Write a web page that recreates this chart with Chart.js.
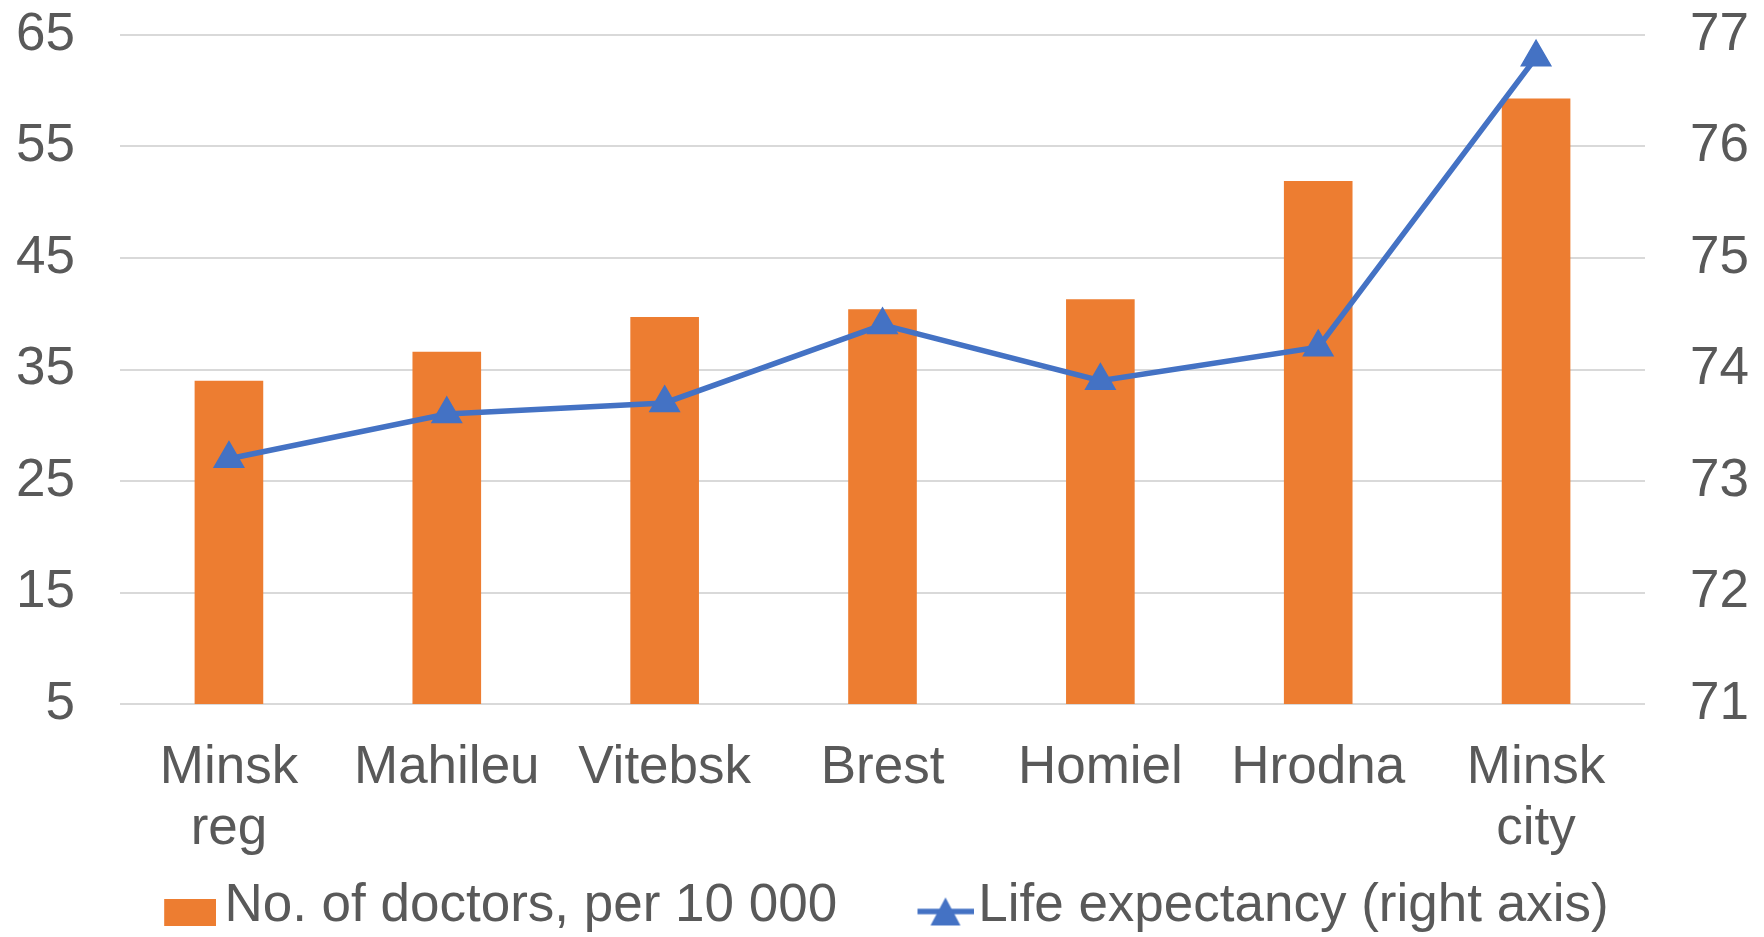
<!DOCTYPE html>
<html>
<head>
<meta charset="utf-8">
<script src="https://cdn.jsdelivr.net/npm/chart.js@4.4.1/dist/chart.umd.min.js"></script>
<style>
  html, body { margin: 0; padding: 0; background: #fff; }
  #wrap { width: 1764px; height: 937px; position: relative; }
</style>
</head>
<body>
<div id="wrap"><canvas id="chart"></canvas></div>
<script>
// Regions, left to right as in the source chart
const regions = [["Minsk", "reg"], "Mahileu", "Vitebsk", "Brest", "Homiel", "Hrodna", ["Minsk", "city"]];

// Doctors per 10 000 people (left axis)
const doctors = [34.0, 36.6, 39.7, 40.4, 41.3, 51.9, 59.3];

// Life expectancy, years (right axis)
const lifeExpectancy = [73.2, 73.6, 73.7, 74.4, 73.9, 74.2, 76.8];

const seriesNames = ["No. of doctors, per 10 000", "Life expectancy (right axis)"];

const ORANGE = "#ED7D31";
const BLUE = "#4472C4";
const TEXT = "#595959";
const GRID = "#D9D9D9";
const FONT = "'Liberation Sans', Arial, sans-serif";
const FS = 53;

// legend markers as small canvases (box / line with triangle),
// content sits at the right edge so it ends close to the text
const MARK_W = 94.5;
function legendBox() {
  const c = document.createElement("canvas");
  c.width = 131; c.height = 39;
  const g = c.getContext("2d");
  g.fillStyle = ORANGE;
  g.fillRect(c.width - 52, 12, 52, 27);
  return c;
}
function legendLine() {
  const c = document.createElement("canvas");
  c.width = 140; c.height = 40;
  const g = c.getContext("2d");
  const x0 = c.width - 57;
  g.strokeStyle = BLUE;
  g.lineWidth = 5.5;
  g.beginPath();
  g.moveTo(x0, 25);
  g.lineTo(c.width, 25);
  g.stroke();
  g.fillStyle = BLUE;
  g.beginPath();
  g.moveTo(x0 + 28, 11);
  g.lineTo(x0 + 43, 39);
  g.lineTo(x0 + 13, 39);
  g.closePath();
  g.fill();
  return c;
}
const legendMarks = [legendBox(), legendLine()];

// y axes: keep box width fixed and only half a label of room above/below
function fixAxis(width) {
  return (s) => {
    s.width = width;
    s.paddingTop = 30;
    s.paddingBottom = 30;
  };
}

new Chart(document.getElementById("chart"), {
  data: {
    labels: regions,
    datasets: [
      {
        type: "bar",
        label: seriesNames[0],
        data: doctors,
        backgroundColor: ORANGE,
        yAxisID: "y",
        order: 2,
        barPercentage: 0.315,
        categoryPercentage: 1
      },
      {
        type: "line",
        label: seriesNames[1],
        data: lifeExpectancy,
        borderColor: BLUE,
        backgroundColor: BLUE,
        borderWidth: 5.5,
        tension: 0,
        pointStyle: "triangle",
        pointRadius: 17,
        pointBorderWidth: 1.5,
        pointBackgroundColor: BLUE,
        pointBorderColor: BLUE,
        yAxisID: "y1",
        order: 1
      }
    ]
  },
  options: {
    responsive: true,
    maintainAspectRatio: false,
    devicePixelRatio: 1,
    animation: false,
    layout: { padding: { top: 35, right: 0, left: -52, bottom: 0 } },
    plugins: {
      tooltip: { enabled: false },
      legend: {
        position: "bottom",
        maxHeight: 77,
        labels: {
          usePointStyle: true,
          pointStyleWidth: MARK_W,
          padding: 20,
          color: TEXT,
          font: { family: FONT, size: FS },
          sort: (a, b) => a.datasetIndex - b.datasetIndex,
          generateLabels: (chart) => {
            const items = Chart.defaults.plugins.legend.labels.generateLabels(chart);
            items.forEach((it) => { it.pointStyle = legendMarks[it.datasetIndex]; });
            return items;
          }
        }
      }
    },
    scales: {
      x: {
        grid: { display: false, drawTicks: false },
        border: { display: false },
        ticks: {
          color: TEXT,
          padding: 34,
          maxRotation: 0,
          autoSkip: false,
          font: { family: FONT, size: FS, lineHeight: 1.15 }
        },
        afterFit: (s) => { s.height = 156; }
      },
      y: {
        position: "left",
        min: 5,
        max: 65,
        grid: { color: GRID, lineWidth: 2, drawTicks: false },
        border: { display: false },
        ticks: {
          stepSize: 10,
          color: TEXT,
          padding: 45,
          font: { family: FONT, size: FS }
        },
        afterFit: fixAxis(172)
      },
      y1: {
        position: "right",
        min: 71,
        max: 77,
        grid: { display: false, drawTicks: false },
        border: { display: false },
        ticks: {
          stepSize: 1,
          color: TEXT,
          padding: 45,
          font: { family: FONT, size: FS }
        },
        afterFit: fixAxis(119)
      }
    }
  }
});
</script>
</body>
</html>
